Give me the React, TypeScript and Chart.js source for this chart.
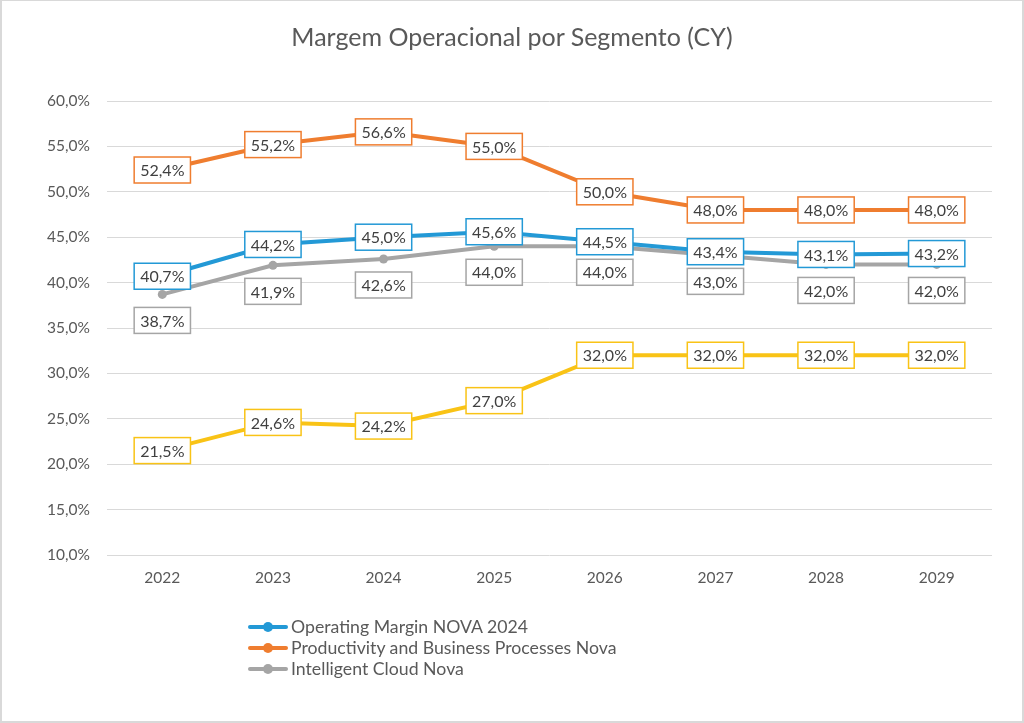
import { useEffect, useRef } from "react";
import { Chart, registerables } from "chart.js";

Chart.register(...registerables);

const years = ["2022", "2023", "2024", "2025", "2026", "2027", "2028", "2029"];
const operatingMarginNova2024 = [40.7, 44.2, 45.0, 45.6, 44.5, 43.4, 43.1, 43.2];
const productivityBusinessNova = [52.4, 55.2, 56.6, 55.0, 50.0, 48.0, 48.0, 48.0];
const intelligentCloudNova = [38.7, 41.9, 42.6, 44.0, 44.0, 43.0, 42.0, 42.0];
const morePersonalComputingNova = [21.5, 24.6, 24.2, 27.0, 32.0, 32.0, 32.0, 32.0];
const seriesNames = [
  "Operating Margin NOVA 2024",
  "Productivity and Business Processes Nova",
  "Intelligent Cloud Nova",
  "More Personal Computing Nova",
];
const chartTitle = "Margem Operacional por Segmento (CY)";
const yMin = 10;
const yMax = 60;
const yStep = 5;

const BLUE = "#2399D6";
const ORANGE = "#EF7D2F";
const GRAY = "#A5A5A5";
const YELLOW = "#F9C316";
const TEXT = "#595959";
const FONT = "Lato, 'Open Sans', sans-serif";

const fmt = (v: number) => v.toFixed(1).replace(".", ",") + "%";

const labelOffsetY = [0, 0, 26, 0];

const labelPlugin = {
  id: "boxLabels",
  afterDatasetsDraw(chart: any) {
    const ctx = chart.ctx as CanvasRenderingContext2D;
    ctx.save();
    ctx.font = `16px ${FONT}`;
    ctx.textAlign = "center";
    ctx.textBaseline = "middle";
    chart.data.datasets.forEach((ds: any, i: number) => {
      const meta = chart.getDatasetMeta(i);
      meta.data.forEach((pt: any, j: number) => {
        const text = fmt(ds.data[j] as number);
        const w = ctx.measureText(text).width + 12;
        const h = 26;
        const cx = pt.x;
        const cy = pt.y + labelOffsetY[i];
        ctx.fillStyle = "#FFFFFF";
        ctx.fillRect(cx - w / 2, cy - h / 2, w, h);
        ctx.strokeStyle = ds.borderColor;
        ctx.lineWidth = 1.5;
        ctx.strokeRect(cx - w / 2, cy - h / 2, w, h);
        ctx.fillStyle = "#404040";
        ctx.fillText(text, cx, cy + 1);
      });
    });
    ctx.restore();
  },
};

const legendItems = [
  { name: seriesNames[0], color: BLUE },
  { name: seriesNames[1], color: ORANGE },
  { name: seriesNames[2], color: GRAY },
];

export default function App() {
  const ref = useRef<HTMLCanvasElement>(null);

  useEffect(() => {
    document.body.style.margin = "0";
    const mk = (label: string, data: number[], color: string) => ({
      label,
      data,
      borderColor: color,
      backgroundColor: color,
      borderWidth: 4,
      pointRadius: 4.5,
      pointHoverRadius: 4.5,
      pointBorderWidth: 0,
      tension: 0,
      borderCapStyle: "round" as const,
    });
    const chart = new Chart(ref.current!, {
      type: "line",
      data: {
        labels: years,
        datasets: [
          mk(seriesNames[0], operatingMarginNova2024, BLUE),
          mk(seriesNames[1], productivityBusinessNova, ORANGE),
          mk(seriesNames[2], intelligentCloudNova, GRAY),
          mk(seriesNames[3], morePersonalComputingNova, YELLOW),
        ],
      },
      options: {
        responsive: false,
        animation: false,
        layout: { padding: { left: 0, right: 32, top: 101, bottom: 0 } },
        plugins: {
          legend: { display: false },
          tooltip: { enabled: false },
          title: { display: false },
        },
        scales: {
          x: {
            offset: true,
            grid: { display: false, drawTicks: false, offset: true },
            border: { display: false },
            ticks: { color: TEXT, font: { family: FONT, size: 15.5 }, padding: 14 },
            afterFit: (s: any) => {
              s.height = 168;
            },
          },
          y: {
            min: yMin,
            max: yMax,
            ticks: {
              stepSize: yStep,
              color: TEXT,
              font: { family: FONT, size: 15.5 },
              padding: 17,
              callback: (v: any) => fmt(Number(v)),
            },
            grid: { color: "#D9D9D9", lineWidth: 1, drawTicks: false },
            border: { display: false },
            afterFit: (s: any) => {
              s.width = 107;
            },
          },
        },
      },
      plugins: [labelPlugin],
    });
    return () => chart.destroy();
  }, []);

  return (
    <div style={{ position: "fixed", left: 0, top: 0, width: 1024, height: 723, background: "#fff" }}>
      <canvas ref={ref} width={1024} height={723} style={{ display: "block" }} />
      <div
        style={{
          position: "absolute",
          left: 0,
          top: 20,
          width: 1024,
          textAlign: "center",
          fontFamily: FONT,
          fontSize: 25,
          lineHeight: "32px",
          color: TEXT,
        }}
      >
        {chartTitle}
      </div>
      <div
        style={{
          position: "absolute",
          left: 248,
          top: 616,
          fontFamily: FONT,
          fontSize: 17.7,
          color: TEXT,
        }}
      >
        {legendItems.map((it) => (
          <div key={it.name} style={{ display: "flex", alignItems: "center", height: 21 }}>
            <div style={{ position: "relative", width: 40, height: 10, marginRight: 3 }}>
              <div
                style={{
                  position: "absolute",
                  left: 0,
                  top: 3,
                  width: 40,
                  height: 4,
                  background: it.color,
                  borderRadius: 2,
                }}
              />
              <div
                style={{
                  position: "absolute",
                  left: 15,
                  top: 0,
                  width: 10,
                  height: 10,
                  borderRadius: 5,
                  background: it.color,
                }}
              />
            </div>
            <span>{it.name}</span>
          </div>
        ))}
      </div>
      <div
        style={{
          position: "absolute",
          left: 0,
          top: 0,
          width: 1024,
          height: 723,
          boxSizing: "border-box",
          borderLeft: "2px solid #D9D9D9",
          borderTop: "1px solid #D9D9D9",
          borderRight: "2px solid #D9D9D9",
          borderBottom: "2px solid #D9D9D9",
          pointerEvents: "none",
        }}
      />
    </div>
  );
}
